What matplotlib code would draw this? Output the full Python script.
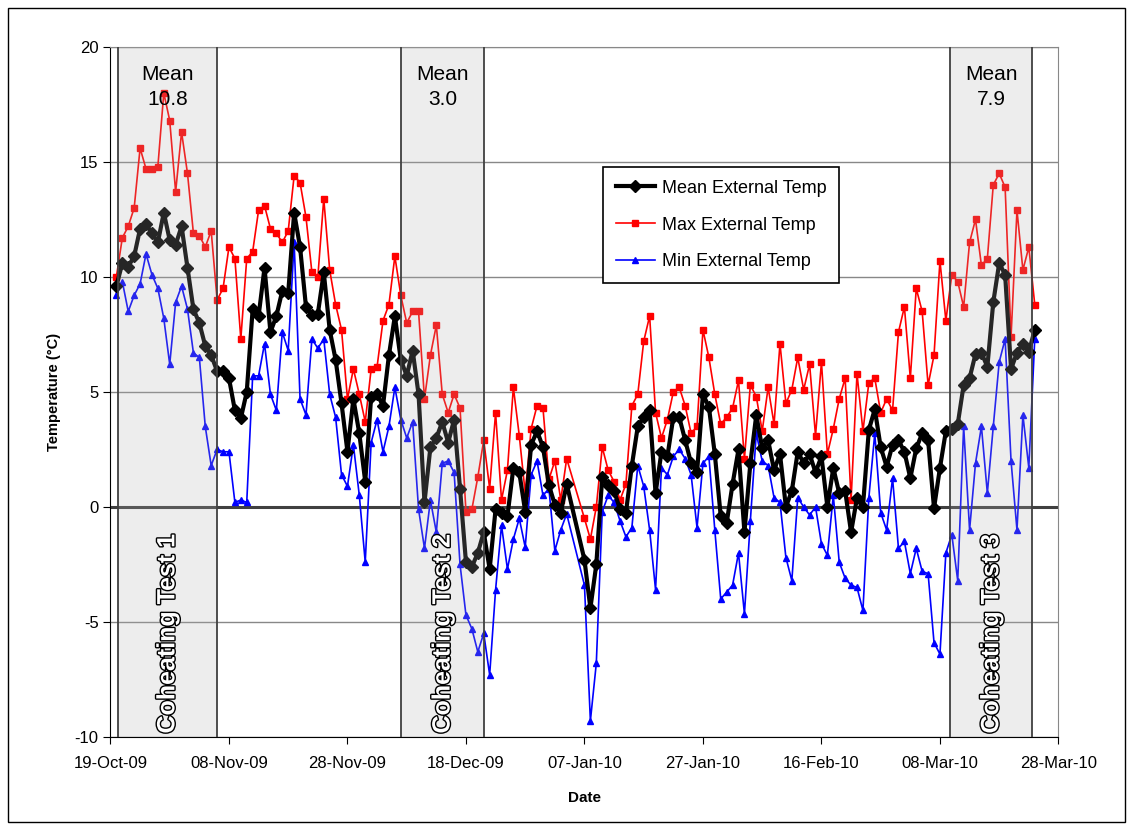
import numpy as np
import pandas as pd
import matplotlib
matplotlib.use('Agg')
import matplotlib.pyplot as plt
import matplotlib.dates as mdates
import matplotlib.patheffects as pe
from matplotlib.patches import Rectangle

plt.rcParams['font.family'] = ['Liberation Sans', 'DejaVu Sans']
plt.rcParams['axes.unicode_minus'] = False

# axis range and daily readings (no readings on 5/6 Jan)
axis_start = pd.Timestamp('2009-10-19')
axis_end = pd.Timestamp('2010-03-28')
missing_days = ['2010-01-05', '2010-01-06']
dates = pd.date_range('2009-10-20', '2010-03-24').drop(pd.to_datetime(missing_days))

mean_temp = [9.6, 10.6, 10.45, 10.9, 12.1, 12.3, 11.9, 11.5, 12.8, 11.6,
             11.4, 12.2, 10.4, 8.6, 8.0, 7.0, 6.6, 5.9, 5.9, 5.6,
             4.2, 3.85, 5.0, 8.6, 8.3, 10.4, 7.6, 8.3, 9.4, 9.3,
             12.8, 11.3, 8.7, 8.35, 8.4, 10.2, 7.7, 6.4, 4.5, 2.4,
             4.7, 3.2, 1.1, 4.8, 4.9, 4.4, 6.6, 8.3, 6.4, 5.7,
             6.8, 4.9, 0.2, 2.6, 3.0, 3.7, 2.8, 3.8, 0.8, -2.4,
             -2.6, -2.0, -1.1, -2.7, -0.1, -0.25, -0.4, 1.7, 1.5, -0.2,
             2.7, 3.3, 2.6, 0.95, 0.1, -0.25, 1.0,
             -2.3, -4.4, -2.5, 1.3, 0.95, 0.7, -0.1, -0.25, 1.8, 3.5,
             3.9, 4.2, 0.6, 2.4, 2.2, 3.9, 3.9, 2.9, 1.9, 1.5,
             4.9, 4.35, 2.3, -0.4, -0.7, 1.0, 2.5, -1.1, 1.9, 4.0,
             2.55, 2.9, 1.6, 2.3, 0.0, 0.7, 2.4, 1.9, 2.3, 1.5,
             2.2, 0.0, 1.7, 0.6, 0.7, -1.1, 0.4, 0.0, 3.35, 4.25,
             2.6, 1.75, 2.7, 2.9, 2.4, 1.25, 2.55, 3.2, 2.9, -0.05,
             1.7, 3.3, 3.4, 3.6, 5.3, 5.6, 6.65, 6.7, 6.1, 8.9,
             10.6, 10.1, 6.0, 6.7, 7.1, 6.75, 7.7]

max_temp = [10.0, 11.7, 12.2, 13.0, 15.6, 14.7, 14.7, 14.8, 18.0, 16.8,
            13.7, 16.3, 14.5, 11.9, 11.8, 11.3, 12.0, 9.0, 9.5, 11.3,
            10.8, 7.3, 10.8, 11.1, 12.9, 13.1, 12.1, 11.9, 11.5, 12.0,
            14.4, 14.1, 12.6, 10.2, 10.0, 13.4, 10.3, 8.8, 7.7, 4.7,
            6.0, 4.9, 3.7, 6.0, 6.1, 8.1, 8.8, 10.9, 9.2, 8.0,
            8.5, 8.5, 4.7, 6.6, 7.9, 4.9, 4.1, 4.9, 4.3, -0.2,
            -0.1, 1.3, 2.9, 0.8, 4.1, 0.3, 1.6, 5.2, 3.1, 0.6,
            3.4, 4.4, 4.3, 1.2, 2.0, 0.3, 2.1,
            -0.5, -1.4, 0.0, 2.6, 1.6, 1.1, 0.3, 1.0, 4.4, 4.9,
            7.2, 8.3, 4.1, 3.0, 3.8, 5.0, 5.2, 4.4, 3.2, 3.5,
            7.7, 6.5, 4.9, 3.6, 3.9, 4.3, 5.5, 2.1, 5.3, 4.8,
            3.3, 5.2, 3.6, 7.1, 4.5, 5.1, 6.5, 5.1, 6.2, 3.1,
            6.3, 2.3, 3.4, 4.7, 5.6, 0.3, 5.8, 3.3, 5.4, 5.6,
            4.1, 4.7, 4.2, 7.6, 8.7, 5.6, 9.5, 8.5, 5.3, 6.6,
            10.7, 8.1, 10.1, 9.8, 8.7, 11.5, 12.5, 10.5, 10.8, 14.0,
            14.5, 13.9, 7.4, 12.9, 10.3, 11.3, 8.8]

min_temp = [9.2, 9.8, 8.5, 9.2, 9.7, 11.0, 10.1, 9.5, 8.2, 6.2,
            8.9, 9.6, 8.6, 6.7, 6.5, 3.5, 1.8, 2.5, 2.4, 2.4,
            0.2, 0.3, 0.2, 5.7, 5.7, 7.1, 4.9, 4.2, 7.6, 6.8,
            11.5, 4.7, 4.0, 7.3, 6.9, 7.3, 4.9, 3.9, 1.4, 0.9,
            2.7, 0.5, -2.4, 2.8, 3.8, 2.4, 3.5, 5.2, 3.8, 3.0,
            3.7, -0.1, -1.8, 0.3, -1.1, 1.9, 2.0, 1.5, -2.5, -4.7,
            -5.3, -6.3, -5.5, -7.3, -3.6, -0.8, -2.7, -1.4, -0.5, -1.75,
            1.4, 2.0, 0.5, 0.8, -1.9, -1.0, -0.3,
            -3.4, -9.3, -6.8, -0.2, 0.5, 0.2, -0.6, -1.3, -0.9, 1.8,
            0.9, -1.0, -3.6, 1.7, 1.4, 2.2, 2.5, 2.1, 1.4, -0.9,
            1.9, 2.2, -1.0, -4.0, -3.7, -3.4, -2.0, -4.65, -0.6, 3.2,
            2.0, 1.8, 0.4, 0.2, -2.2, -3.2, 0.4, 0.0, -0.35, 0.0,
            -1.6, -2.1, 0.5, -2.4, -3.1, -3.4, -3.5, -4.5, 0.4, 3.2,
            -0.25, -1.0, 1.25, -1.8, -1.5, -2.9, -1.8, -2.8, -2.9, -5.9,
            -6.4, -2.0, -1.2, -3.2, 3.5, -1.0, 1.9, 3.5, 0.6, 3.5,
            6.3, 7.3, 2.0, -1.0, 4.0, 1.7, 7.3]

# coheating tests: start/end as days after 19-Oct-09, mean label
test_names = ['Coheating Test 1', 'Coheating Test 2', 'Coheating Test 3']
test_start = [1.3, 49.1, 141.7]
test_end = [17.9, 63.0, 155.6]
test_means = ['10.8', '3.0', '7.9']


fig = plt.figure(figsize=(11.33, 8.25), dpi=100)
ax = fig.add_axes([0.0975, 0.1067, 0.8367, 0.8364])

ax.plot(dates, min_temp, color='#0000FF', lw=1.2, marker='^', ms=5,
        label='Min External Temp', zorder=3)
ax.plot(dates, max_temp, color='#FF0000', lw=1.2, marker='s', ms=4.5,
        label='Max External Temp', zorder=4)
ax.plot(dates, mean_temp, color='black', lw=3, marker='D', ms=6,
        label='Mean External Temp', zorder=5)

ax.set_xlim(axis_start, axis_end)
ax.set_ylim(-10, 20)
ax.set_yticks(range(-10, 21, 5))
ax.set_xticks(pd.date_range(axis_start, axis_end, freq='20D'))
ax.xaxis.set_major_formatter(mdates.DateFormatter('%d-%b-%y'))
ax.tick_params(labelsize=12, direction='out', length=5, color='black')
ax.tick_params(axis='x', pad=9)
ax.grid(axis='y', color='#888888', lw=1, zorder=1)
ax.axhline(0, color='#404040', lw=2.2, zorder=2)
for s in ['top', 'right']:
    ax.spines[s].set_color('#888888')
for s in ['left', 'bottom']:
    ax.spines[s].set_color('black')

x0 = mdates.date2num(axis_start)
for name, s, e, m in zip(test_names, test_start, test_end, test_means):
    ax.add_patch(Rectangle((x0 + s, -10), e - s, 30, facecolor='#B0B0B0',
                           alpha=0.22, edgecolor='none', zorder=6))
    for xv in (s, e):
        ax.axvline(x0 + xv, color='#404040', lw=1.3, zorder=7)
    xc = x0 + (s + e) / 2
    ax.text(xc, 19.2, 'Mean\n' + m, ha='center', va='top', fontsize=15,
            linespacing=1.4, zorder=8)
    ax.text(xc, -9.85, name, rotation=90, ha='center', va='bottom',
            fontsize=18, fontweight='bold', color='white', zorder=8,
            path_effects=[pe.withStroke(linewidth=2, foreground='black')])

handles, labels = ax.get_legend_handles_labels()
leg = ax.legend(handles[::-1], labels[::-1], loc='upper left',
                bbox_to_anchor=(0.5195, 0.826), borderaxespad=0,
                fontsize=13, frameon=True, fancybox=False, edgecolor='black',
                framealpha=1, labelspacing=1.1, handlelength=2.2,
                handletextpad=0.35, borderpad=0.7)
leg.get_frame().set_linewidth(1.2)
leg.set_zorder(9)

ax.set_xlabel('Date', fontsize=11, fontweight='bold', labelpad=14)
ax.set_ylabel('Temperature (\u00b0C)', fontsize=10.5, fontweight='bold', labelpad=10)

fig.patches.append(Rectangle((0.007, 0.004), 0.986, 0.986, transform=fig.transFigure,
                             fill=False, edgecolor='black', lw=1))

fig.savefig('out.png', dpi=100)
